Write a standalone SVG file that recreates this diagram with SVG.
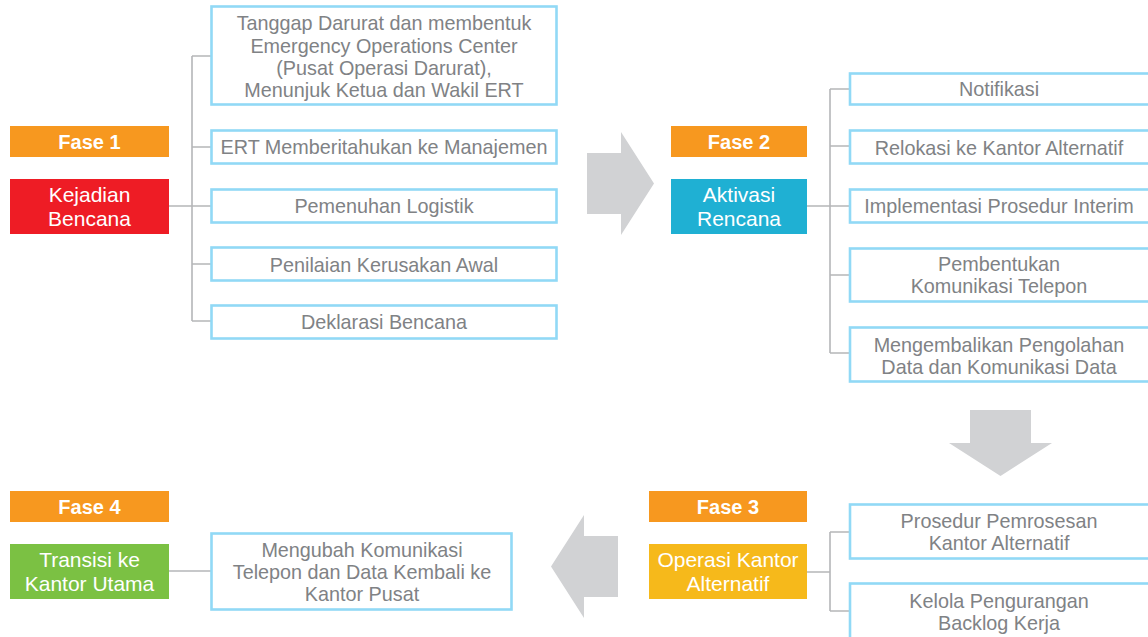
<svg xmlns="http://www.w3.org/2000/svg" width="1148" height="637" viewBox="0 0 1148 637">
  <style>
    .fase { fill: #f7981f; }
    .fase-t { font-family: "Liberation Sans", Arial, sans-serif; font-size: 20px; font-weight: bold; fill: #ffffff; text-anchor: middle; }
    .head-t { font-family: "Liberation Sans", Arial, sans-serif; font-size: 21px; fill: #ffffff; text-anchor: middle; }
    .step { fill: #ffffff; stroke: #91d9f6; stroke-width: 2.6; }
    .step-t { font-family: "Liberation Sans", Arial, sans-serif; font-size: 19.8px; fill: #808285; text-anchor: middle; }
    .conn { fill: none; stroke: #b5b6b8; stroke-width: 1.6; }
    .flow { fill: #d1d2d4; }
  </style>

  <!-- flow arrows between phases -->
  <g id="flow-arrows">
    <polygon class="flow" points="587,153 621,153 621,132 654,183.5 621,235 621,214 587,214"/>
    <polygon class="flow" points="970,410 1031,410 1031,443 1052,443 1000.5,476 949,443 970,443"/>
    <polygon class="flow" points="618,536 584,536 584,515 551,566.5 584,618 584,597 618,597"/>
  </g>

  <!-- connectors -->
  <g id="connectors">
    <path class="conn" d="M169,206 H192 M192,56 V321 M192,56 H211 M192,147 H211 M192,206 H211 M192,264 H211 M192,321 H211"/>
    <path class="conn" d="M807,206 H830 M830,89 V353 M830,89 H850 M830,146 H850 M830,206 H850 M830,275 H850 M830,353 H850"/>
    <path class="conn" d="M807,572 H830 M830,532 V611 M830,532 H850 M830,611 H850"/>
    <path class="conn" d="M169,571 H211"/>
  </g>

  <!-- Phase 1 -->
  <g id="fase1">
    <rect class="fase" x="10" y="126" width="159" height="31"/>
    <text class="fase-t" x="89.5" y="148.5">Fase 1</text>
  </g>
  <g id="kejadian-bencana">
    <rect x="10" y="179" width="159" height="55" fill="#ee1c25"/>
    <text class="head-t" x="89.5" y="202">Kejadian</text>
    <text class="head-t" x="89.5" y="226">Bencana</text>
  </g>
  <g id="tanggap-darurat">
    <rect class="step" x="211.5" y="6.5" width="345" height="98"/>
    <text class="step-t" x="384" y="30">Tanggap Darurat dan membentuk</text>
    <text class="step-t" x="384" y="52.5">Emergency Operations Center</text>
    <text class="step-t" x="384" y="74.5">(Pusat Operasi Darurat),</text>
    <text class="step-t" x="384" y="96.5">Menunjuk Ketua dan Wakil ERT</text>
  </g>
  <g id="ert-memberitahukan">
    <rect class="step" x="211.5" y="130.5" width="345" height="33"/>
    <text class="step-t" x="384" y="154">ERT Memberitahukan ke Manajemen</text>
  </g>
  <g id="pemenuhan-logistik">
    <rect class="step" x="211.5" y="189.5" width="345" height="33"/>
    <text class="step-t" x="384" y="213">Pemenuhan Logistik</text>
  </g>
  <g id="penilaian-kerusakan">
    <rect class="step" x="211.5" y="247.5" width="345" height="33"/>
    <text class="step-t" x="384" y="271.5">Penilaian Kerusakan Awal</text>
  </g>
  <g id="deklarasi-bencana">
    <rect class="step" x="211.5" y="305.5" width="345" height="33"/>
    <text class="step-t" x="384" y="329">Deklarasi Bencana</text>
  </g>

  <!-- Phase 2 -->
  <g id="fase2">
    <rect class="fase" x="671" y="126" width="136" height="31"/>
    <text class="fase-t" x="739" y="148.5">Fase 2</text>
  </g>
  <g id="aktivasi-rencana">
    <rect x="671" y="179" width="136" height="55" fill="#1fb0d3"/>
    <text class="head-t" x="739" y="202">Aktivasi</text>
    <text class="head-t" x="739" y="226">Rencana</text>
  </g>
  <g id="notifikasi">
    <rect class="step" x="850" y="73.5" width="310" height="31"/>
    <text class="step-t" x="999" y="96">Notifikasi</text>
  </g>
  <g id="relokasi">
    <rect class="step" x="850" y="130.5" width="310" height="33"/>
    <text class="step-t" x="999" y="154.5">Relokasi ke Kantor Alternatif</text>
  </g>
  <g id="prosedur-interim">
    <rect class="step" x="850" y="189.5" width="310" height="33"/>
    <text class="step-t" x="999" y="213">Implementasi Prosedur Interim</text>
  </g>
  <g id="komunikasi-telepon">
    <rect class="step" x="850" y="248.5" width="310" height="53"/>
    <text class="step-t" x="999" y="271">Pembentukan</text>
    <text class="step-t" x="999" y="293">Komunikasi Telepon</text>
  </g>
  <g id="pengolahan-data">
    <rect class="step" x="850" y="327.5" width="310" height="54"/>
    <text class="step-t" x="999" y="352">Mengembalikan Pengolahan</text>
    <text class="step-t" x="999" y="373.5">Data dan Komunikasi Data</text>
  </g>

  <!-- Phase 3 -->
  <g id="fase3">
    <rect class="fase" x="649" y="491" width="158" height="31"/>
    <text class="fase-t" x="728" y="514">Fase 3</text>
  </g>
  <g id="operasi-kantor">
    <rect x="649" y="544" width="158" height="55" fill="#f6b91b"/>
    <text class="head-t" x="728" y="567">Operasi Kantor</text>
    <text class="head-t" x="728" y="591">Alternatif</text>
  </g>
  <g id="prosedur-pemrosesan">
    <rect class="step" x="850" y="504.5" width="310" height="54"/>
    <text class="step-t" x="999" y="528">Prosedur Pemrosesan</text>
    <text class="step-t" x="999" y="550">Kantor Alternatif</text>
  </g>
  <g id="backlog-kerja">
    <rect class="step" x="850" y="583.5" width="310" height="70"/>
    <text class="step-t" x="999" y="608">Kelola Pengurangan</text>
    <text class="step-t" x="999" y="630">Backlog Kerja</text>
  </g>

  <!-- Phase 4 -->
  <g id="fase4">
    <rect class="fase" x="10" y="491" width="159" height="31"/>
    <text class="fase-t" x="89.5" y="514">Fase 4</text>
  </g>
  <g id="transisi-kantor-utama">
    <rect x="10" y="544" width="159" height="55" fill="#7bc143"/>
    <text class="head-t" x="89.5" y="567">Transisi ke</text>
    <text class="head-t" x="89.5" y="591">Kantor Utama</text>
  </g>
  <g id="mengubah-komunikasi">
    <rect class="step" x="211.5" y="533.5" width="300" height="76"/>
    <text class="step-t" x="362" y="557">Mengubah Komunikasi</text>
    <text class="step-t" x="362" y="579">Telepon dan Data Kembali ke</text>
    <text class="step-t" x="362" y="601">Kantor Pusat</text>
  </g>
</svg>
